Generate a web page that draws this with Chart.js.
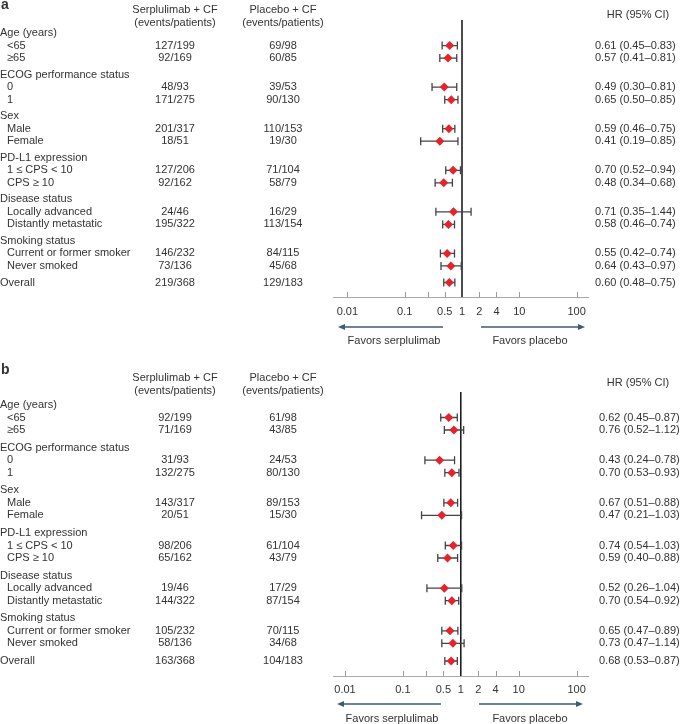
<!DOCTYPE html>
<html>
<head>
<meta charset="utf-8">
<script src="https://cdn.jsdelivr.net/npm/chart.js@4.4.1/dist/chart.umd.min.js"></script>
<style>
  body { margin: 0; background: #fff; }
  canvas { display: block; }
</style>
</head>
<body>
<canvas id="chartA" width="686" height="362"></canvas>
<canvas id="chartB" width="686" height="362"></canvas>
<script>
// Subgroups (same for both panels)
const groupNames = ['Age (years)', 'ECOG performance status', 'Sex', 'PD-L1 expression', 'Disease status', 'Smoking status'];
const subgroupNames = [
    ['<65', '≥65'],
    ['0', '1'],
    ['Male', 'Female'],
    ['1 ≤ CPS < 10', 'CPS ≥ 10'],
    ['Locally advanced', 'Distantly metastatic'],
    ['Current or former smoker', 'Never smoked']
];
const overallLabel = 'Overall';

// Panel a
const serplulimabA = ['127/199', '92/169', '48/93', '171/275', '201/317', '18/51', '127/206', '92/162', '24/46', '195/322', '146/232', '73/136', '219/368'];
const placeboA = ['69/98', '60/85', '39/53', '90/130', '110/153', '19/30', '71/104', '58/79', '16/29', '113/154', '84/115', '45/68', '129/183'];
const hrA = [0.61, 0.57, 0.49, 0.65, 0.59, 0.41, 0.70, 0.48, 0.71, 0.58, 0.55, 0.64, 0.60];
const lowerA = [0.45, 0.41, 0.30, 0.50, 0.46, 0.19, 0.52, 0.34, 0.35, 0.46, 0.42, 0.43, 0.48];
const upperA = [0.83, 0.81, 0.81, 0.85, 0.75, 0.85, 0.94, 0.68, 1.44, 0.74, 0.74, 0.97, 0.75];

// Panel b
const serplulimabB = ['92/199', '71/169', '31/93', '132/275', '143/317', '20/51', '98/206', '65/162', '19/46', '144/322', '105/232', '58/136', '163/368'];
const placeboB = ['61/98', '43/85', '24/53', '80/130', '89/153', '15/30', '61/104', '43/79', '17/29', '87/154', '70/115', '34/68', '104/183'];
const hrB = [0.62, 0.76, 0.43, 0.70, 0.67, 0.47, 0.74, 0.59, 0.52, 0.70, 0.65, 0.73, 0.68];
const lowerB = [0.45, 0.52, 0.24, 0.53, 0.51, 0.21, 0.54, 0.40, 0.26, 0.54, 0.47, 0.47, 0.53];
const upperB = [0.87, 1.12, 0.78, 0.93, 0.88, 1.03, 1.03, 0.88, 1.04, 0.92, 0.89, 1.14, 0.87];

// x axis ticks
const tickValues = [0.01, 0.1, 0.25, 0.5, 1, 2, 4, 10, 100];
const tickLabels = ['0.01', '0.1', '', '0.5', '1', '2', '4', '10', '100'];

const FONT = '"Liberation Sans", Arial, sans-serif';
const TEXT = '#333';

// Row positions in "line" units: header, then its subgroups, then a small gap
function buildRows(gap) {
    const headers = [];
    const rows = [];
    let u = 0;
    groupNames.forEach((name, g) => {
        headers.push({ text: name, u: u });
        subgroupNames[g].forEach((s, k) => rows.push({ text: s, u: u + k + 1, indent: true }));
        u += subgroupNames[g].length + 1 + gap;
    });
    rows.push({ text: overallLabel, u: u, indent: false });
    return { headers, rows, last: u };
}

const panels = [
    { id: 'chartA', letter: 'a', serp: serplulimabA, plac: placeboA, hr: hrA, lo: lowerA, hi: upperA,
      gap: 0.32, firstY: 33, lastY: 282.5, top: 20, axisY: 297, xOne: 462, decade: 57.3, tickPad: 8,
      headY: [10, 23], hrHeadY: 15, hrX: 595, letterY: 5,
      arrowY: 327, favorsY: 341, arrowX: [338, 443, 481, 585], favorsX: [394, 530] },
    { id: 'chartB', letter: 'b', serp: serplulimabB, plac: placeboB, hr: hrB, lo: lowerB, hi: upperB,
      gap: 0.41, firstY: 43, lastY: 299, top: 30, axisY: 314, xOne: 460.8, decade: 57.9, tickPad: 7,
      headY: [16, 29], hrHeadY: 21, hrX: 599, letterY: 8,
      arrowY: 342, favorsY: 357, arrowX: [337, 441, 479, 583], favorsX: [392, 530] }
];

function fmt(v) { return v.toFixed(2); }

function drawArrow(ctx, x1, x2, y) {
    // line from x1 to x2 with a head at x2
    const dir = x2 > x1 ? 1 : -1;
    ctx.strokeStyle = '#3e5a76';
    ctx.fillStyle = '#3e5a76';
    ctx.lineWidth = 1.6;
    ctx.beginPath();
    ctx.moveTo(x1, y);
    ctx.lineTo(x2 - dir * 5, y);
    ctx.stroke();
    ctx.beginPath();
    ctx.moveTo(x2, y);
    ctx.lineTo(x2 - dir * 7, y - 3);
    ctx.lineTo(x2 - dir * 7, y + 3);
    ctx.closePath();
    ctx.fill();
}

function makeChart(p) {
    const layout = buildRows(p.gap);
    const canvasH = 362;
    const unitPx = (p.lastY - p.firstY) / layout.last;
    const yMin = (p.top - p.firstY) / unitPx;
    const yMax = layout.last + (p.axisY - p.lastY) / unitPx;
    const xMin = Math.pow(10, (333 - p.xOne) / p.decade);
    const xMax = Math.pow(10, (588 - p.xOne) / p.decade);

    const points = p.hr.map((v, i) => ({ x: v, y: layout.rows[i].u }));

    const forestPlugin = {
        id: 'forest_' + p.letter,
        beforeDatasetsDraw(chart) {
            const ctx = chart.ctx;
            const xs = chart.scales.x;
            const ys = chart.scales.y;
            const area = chart.chartArea;
            ctx.save();
            // ticks pointing up from the axis
            ctx.strokeStyle = '#9a9a9a';
            ctx.lineWidth = 1;
            tickValues.forEach(v => {
                if (v === 1) return;
                const x = Math.round(xs.getPixelForValue(v)) + 0.5;
                ctx.beginPath();
                ctx.moveTo(x, area.bottom);
                ctx.lineTo(x, area.bottom - 5);
                ctx.stroke();
            });
            // line of no effect
            const x1 = xs.getPixelForValue(1);
            ctx.strokeStyle = '#111';
            ctx.lineWidth = 1.5;
            ctx.beginPath();
            ctx.moveTo(x1, area.top);
            ctx.lineTo(x1, area.bottom);
            ctx.stroke();
            // confidence intervals
            ctx.strokeStyle = '#444';
            ctx.lineWidth = 1.3;
            p.lo.forEach((lo, i) => {
                const y = ys.getPixelForValue(layout.rows[i].u);
                const xl = xs.getPixelForValue(lo);
                const xh = xs.getPixelForValue(p.hi[i]);
                ctx.beginPath();
                ctx.moveTo(xl, y); ctx.lineTo(xh, y);
                ctx.moveTo(xl, y - 4); ctx.lineTo(xl, y + 4);
                ctx.moveTo(xh, y - 4); ctx.lineTo(xh, y + 4);
                ctx.stroke();
            });
            ctx.restore();
        },
        afterDraw(chart) {
            const ctx = chart.ctx;
            const ys = chart.scales.y;
            ctx.save();
            ctx.textBaseline = 'middle';
            ctx.fillStyle = TEXT;
            // panel letter
            ctx.font = 'bold 14px ' + FONT;
            ctx.textAlign = 'left';
            ctx.fillText(p.letter, 1, p.letterY);
            ctx.font = '11px ' + FONT;
            // column headers
            ctx.textAlign = 'center';
            ctx.fillText('Serplulimab + CF', 175, p.headY[0]);
            ctx.fillText('(events/patients)', 175, p.headY[1]);
            ctx.fillText('Placebo + CF', 283, p.headY[0]);
            ctx.fillText('(events/patients)', 283, p.headY[1]);
            ctx.fillText('HR (95% CI)', 638, p.hrHeadY);
            // group headers
            ctx.textAlign = 'left';
            layout.headers.forEach(h => ctx.fillText(h.text, 0, ys.getPixelForValue(h.u)));
            // subgroup rows
            layout.rows.forEach((r, i) => {
                const y = ys.getPixelForValue(r.u);
                ctx.textAlign = 'left';
                ctx.fillText(r.text, r.indent ? 7 : 0, y);
                ctx.fillText(fmt(p.hr[i]) + ' (' + fmt(p.lo[i]) + '–' + fmt(p.hi[i]) + ')', p.hrX, y);
                ctx.textAlign = 'center';
                ctx.fillText(p.serp[i], 175, y);
                ctx.fillText(p.plac[i], 283, y);
            });
            // favours arrows
            drawArrow(ctx, p.arrowX[1], p.arrowX[0], p.arrowY);
            drawArrow(ctx, p.arrowX[2], p.arrowX[3], p.arrowY);
            ctx.fillStyle = TEXT;
            ctx.textAlign = 'center';
            ctx.fillText('Favors serplulimab', p.favorsX[0], p.favorsY);
            ctx.fillText('Favors placebo', p.favorsX[1], p.favorsY);
            ctx.restore();
        }
    };

    return new Chart(document.getElementById(p.id), {
        type: 'scatter',
        data: {
            datasets: [{
                data: points,
                pointStyle: 'rectRot',
                pointRadius: 4.5,
                pointBackgroundColor: '#e6232b',
                pointBorderWidth: 0
            }]
        },
        options: {
            responsive: false,
            animation: false,
            events: [],
            layout: { padding: { left: 333, right: 686 - 588, top: p.top, bottom: 0 } },
            plugins: { legend: { display: false }, tooltip: { enabled: false } },
            scales: {
                x: {
                    type: 'logarithmic',
                    bounds: 'data',
                    min: xMin,
                    max: xMax,
                    afterBuildTicks: scale => { scale.ticks = tickValues.map(v => ({ value: v })); },
                    afterFit: scale => { scale.height = canvasH - p.axisY; },
                    grid: { display: true, drawOnChartArea: false, drawTicks: false },
                    border: { display: true, color: '#a8a8a8', width: 1 },
                    ticks: {
                        autoSkip: false,
                        maxRotation: 0,
                        padding: p.tickPad,
                        color: TEXT,
                        font: { family: FONT, size: 11 },
                        callback: (value, index) => tickLabels[index]
                    }
                },
                y: {
                    type: 'linear',
                    display: false,
                    reverse: true,
                    min: yMin,
                    max: yMax
                }
            }
        },
        plugins: [forestPlugin]
    });
}

panels.forEach(makeChart);
</script>
</body>
</html>
